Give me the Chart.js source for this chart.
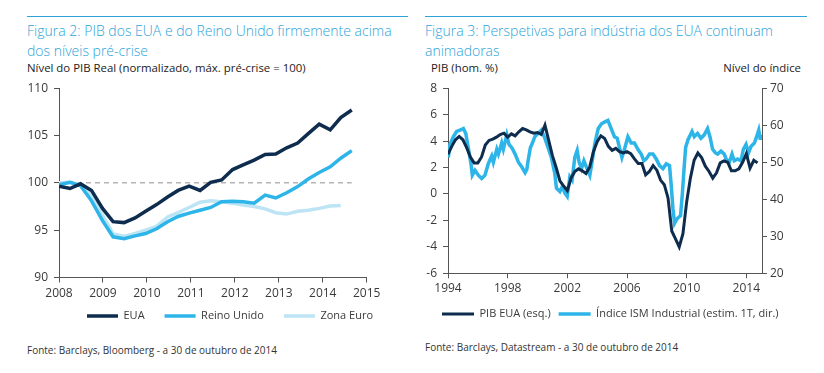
<!DOCTYPE html>
<html><head><meta charset="utf-8">
<script src="https://cdn.jsdelivr.net/npm/chart.js@4.4.1/dist/chart.umd.min.js"></script>
<style>
html,body{margin:0;padding:0;background:#fff;}
body{width:824px;height:373px;position:relative;overflow:hidden;font-family:'Open Sans',sans-serif;}
.rule{position:absolute;top:16px;height:1px;background:#2ea3d8;}
.title{position:absolute;top:21px;font-size:14px;line-height:20px;color:#2ea3d8;font-weight:300;white-space:nowrap;}
.sub{position:absolute;top:61px;font-size:11.4px;color:#222;white-space:nowrap;line-height:14px;}
.src{position:absolute;font-size:10px;color:#333;white-space:nowrap;line-height:12px;}
canvas{position:absolute;}
</style></head><body>
<div class="rule" style="left:27px;width:381px"></div>
<div class="rule" style="left:425px;width:382px"></div>
<div class="title" style="left:27px">Figura 2: PIB dos EUA e do Reino Unido firmemente acima<br>dos níveis pré-crise</div>
<div class="title" style="left:425px">Figura 3: Perspetivas para indústria dos EUA continuam<br>animadoras</div>
<div class="sub" style="left:27px">Nível do PIB Real (normalizado, máx. pré-crise = 100)</div>
<div class="sub" style="left:431px">PIB (hom. %)</div>
<div class="sub" style="right:23px">Nível do índice</div>
<div class="src" style="left:27px;top:344px">Fonte: Barclays, Bloomberg - a 30 de outubro de 2014</div>
<div class="src" style="left:425px;top:341px">Fonte: Barclays, Datastream - a 30 de outubro de 2014</div>
<canvas id="c1" width="412" height="280" style="left:0;top:75px;width:412px;height:280px"></canvas>
<canvas id="c2" width="412" height="262" style="left:412px;top:75px;width:412px;height:262px"></canvas>
<script>
// ---------- Figura 2 data ----------
const leftDates = [2008.00,2008.25,2008.49,2008.74,2008.99,2009.23,2009.48,2009.73,2009.97,2010.22,2010.47,2010.71,2010.96,2011.21,2011.45,2011.70,2011.95,2012.19,2012.44,2012.69,2012.93,2013.18,2013.43,2013.67,2013.92,2014.17,2014.41,2014.66];
const euaValues = [99.65,99.4,99.9,99.2,97.3,95.9,95.8,96.3,97.0,97.7,98.5,99.2,99.65,99.2,100.05,100.3,101.4,101.9,102.4,103.0,103.05,103.7,104.2,105.2,106.2,105.6,106.9,107.7];
const reinoUnidoValues = [99.8,100.05,99.7,98.1,96.0,94.3,94.1,94.4,94.65,95.15,95.9,96.45,96.8,97.1,97.4,98.0,98.05,98.0,97.85,98.7,98.4,98.95,99.6,100.4,101.1,101.7,102.6,103.4];
const zonaEuroValues = [100.0,100.05,99.8,98.6,96.6,94.6,94.35,94.65,95.0,95.4,96.4,96.85,97.4,97.95,98.1,98.0,97.85,97.65,97.5,97.25,96.85,96.7,97.0,97.1,97.3,97.55,97.6,null];
const leftSeriesNames = ['EUA','Reino Unido','Zona Euro'];
const preCrisisDates = [2008.0, 2014.66];
const preCrisisLevel = [100, 100];
const leftXTicks = [2008,2009,2010,2011,2012,2013,2014,2015];
const leftYTicks = [90,95,100,105,110];

// ---------- Figura 3 data ----------
const gdpDates = [1994.00,1994.25,1994.50,1994.75,1995.00,1995.25,1995.50,1995.75,1996.00,1996.25,1996.50,1996.75,1997.00,1997.25,1997.50,1997.75,1998.00,1998.25,1998.50,1998.75,1999.00,1999.25,1999.50,1999.75,2000.00,2000.25,2000.50,2000.75,2001.00,2001.25,2001.50,2001.75,2002.00,2002.25,2002.50,2002.75,2003.00,2003.25,2003.50,2003.75,2004.00,2004.25,2004.50,2004.75,2005.00,2005.25,2005.50,2005.75,2006.00,2006.25,2006.50,2006.75,2007.00,2007.25,2007.50,2007.75,2008.00,2008.25,2008.50,2008.75,2009.00,2009.25,2009.50,2009.75,2010.00,2010.25,2010.50,2010.75,2011.00,2011.25,2011.50,2011.75,2012.00,2012.25,2012.50,2012.75,2013.00,2013.25,2013.50,2013.75,2014.00,2014.25,2014.50,2014.75];
const gdpValues = [3.0,3.6,4.1,4.35,4.1,3.5,2.8,2.35,2.35,2.8,3.7,4.05,4.15,4.3,4.5,4.6,4.3,4.55,4.4,4.7,4.95,4.85,4.7,4.6,4.65,4.5,5.2,4.05,2.9,2.0,1.0,0.6,0.25,1.2,1.7,1.9,1.75,1.55,2.05,3.2,3.95,4.4,4.2,3.6,3.3,3.45,3.2,3.1,3.2,3.05,2.65,2.3,2.3,1.45,1.7,2.15,1.8,1.05,0.7,-0.3,-2.8,-3.4,-4.0,-3.0,-0.6,1.2,2.55,3.1,2.75,2.1,1.7,1.2,1.6,2.35,2.5,2.4,1.75,1.75,1.9,2.4,3.05,1.95,2.55,2.35];
const ismDates = [1994.02,1994.13,1994.36,1994.58,1994.81,1995.03,1995.19,1995.36,1995.54,1995.63,1995.81,1996.03,1996.26,1996.48,1996.70,1996.93,1997.04,1997.27,1997.38,1997.60,1997.71,1997.94,1998.09,1998.28,1998.50,1998.72,1998.95,1999.17,1999.28,1999.37,1999.52,1999.70,1999.82,2000.04,2000.26,2000.49,2000.71,2000.93,2001.16,2001.27,2001.50,2001.67,2001.83,2001.99,2002.17,2002.32,2002.50,2002.66,2002.79,2002.95,2003.11,2003.28,2003.51,2003.62,2003.85,2004.07,2004.29,2004.52,2004.72,2004.94,2005.16,2005.34,2005.50,2005.66,2005.83,2006.06,2006.28,2006.50,2006.73,2006.95,2007.13,2007.29,2007.51,2007.74,2007.96,2008.18,2008.41,2008.63,2008.85,2008.97,2009.08,2009.19,2009.37,2009.59,2009.72,2009.82,2009.93,2010.09,2010.36,2010.51,2010.73,2010.96,2011.18,2011.40,2011.56,2011.74,2011.92,2012.07,2012.30,2012.52,2012.64,2012.86,2013.04,2013.19,2013.42,2013.64,2013.80,2013.98,2014.15,2014.32,2014.54,2014.69,2014.83,2014.92,2014.98];
const ismValues = [51.3,54.8,56.9,58.3,58.7,59.1,57.8,53.9,49.6,46.5,47.8,46.5,45.6,46.5,49.6,51.7,50.0,53.5,52.2,55.2,53.5,57.4,54.8,53.9,52.2,50.0,48.7,47.2,48.0,50.4,53.9,55.6,56.9,57.8,58.7,56.5,53.9,51.3,46.9,43.0,42.1,43.5,41.7,40.8,46.1,45.2,51.3,53.2,50.0,48.3,50.4,48.7,46.5,49.1,55.2,59.1,60.4,60.9,61.3,59.1,56.9,56.5,53.9,51.3,53.5,56.9,55.2,55.2,53.5,52.2,50.4,50.9,52.2,52.2,50.9,49.1,48.3,49.6,49.1,43.5,37.4,33.5,34.8,35.6,42.0,48.0,54.0,56.1,58.3,56.9,57.8,56.5,57.4,59.1,56.9,53.5,52.6,52.2,53.0,52.2,50.9,50.0,52.2,50.4,50.9,50.4,53.5,54.8,52.6,54.3,55.2,56.9,58.7,56.5,57.4];
const rightSeriesNames = ['PIB EUA (esq.)','Índice ISM Industrial (estim. 1T, dir.)'];
const rightXTicks = [1994,1998,2002,2006,2010,2014];
const gdpTicks = [-6,-4,-2,0,2,4,6,8];
const ismTicks = [20,30,40,50,60,70];

// ---------- helpers ----------
const NAVY = '#0e2d4e', SKY = '#2db4e8', PALE = '#bde4f4', AXIS = '#555555', TXT = '#3a3a3a';
const FONT = "'Open Sans', sans-serif";
Chart.defaults.font.family = FONT;
Chart.defaults.font.size = 12;
Chart.defaults.color = TXT;
const pts = (d, v) => d.map((x, i) => ({x: x, y: v[i]}));
const setTicks = arr => (s => { s.ticks = arr.map(v => ({value: v})); });

// place the legend row at a given start x / label centre y (canvas px)
const legendShift = {
  id: 'legendShift',
  afterLayout(chart, args, opts) {
    const lg = chart.legend;
    if (!lg) return;
    const lab = lg.options.labels;
    const fs = lab.font.size;
    if (opts.start != null) {
      const w = lg.right - lg.left;
      lg.left = opts.start - lab.padding;
      lg.right = lg.left + w;
    }
    if (opts.centerY != null) {
      const h = lg.bottom - lg.top;
      lg.top = opts.centerY - lab.padding - fs / 2;
      lg.bottom = lg.top + h;
    }
  }
};

function axisStyle(extra) {
  return Object.assign({
    border: {display: true, color: AXIS, width: 1},
    grid: {display: true, drawOnChartArea: false, drawTicks: true, tickLength: 5, color: AXIS}
  }, extra);
}

// ---------- Figura 2 chart ----------
new Chart(document.getElementById('c1'), {
  type: 'line',
  data: {
    datasets: [
      {label: leftSeriesNames[0], data: pts(leftDates, euaValues), borderColor: NAVY, backgroundColor: NAVY, borderWidth: 3.5},
      {label: leftSeriesNames[1], data: pts(leftDates, reinoUnidoValues), borderColor: SKY, backgroundColor: SKY, borderWidth: 3.5},
      {label: leftSeriesNames[2], data: pts(leftDates, zonaEuroValues), borderColor: PALE, backgroundColor: PALE, borderWidth: 3.5},
      {label: '', data: pts(preCrisisDates, preCrisisLevel), borderColor: '#b5b5b5', borderWidth: 1.5, borderDash: [5, 4]}
    ]
  },
  plugins: [legendShift],
  options: {
    responsive: false, animation: false,
    elements: {point: {radius: 0}, line: {tension: 0}},
    layout: {padding: {top: 12.3, left: 0, right: 45.3, bottom: 8.5}},
    scales: {
      x: axisStyle({type: 'linear', min: 2008, max: 2015,
        afterBuildTicks: setTicks(leftXTicks),
        afterFit: s => { s.height = 28; },
        ticks: {padding: 4, color: TXT, font: {size: 12}, callback: v => String(v)}}),
      y: axisStyle({type: 'linear', min: 90, max: 110,
        afterBuildTicks: setTicks(leftYTicks),
        afterFit: s => { s.width = 59; },
        ticks: {padding: 6, color: TXT, font: {size: 12}}})
    },
    plugins: {
      tooltip: {enabled: false},
      legendShift: {start: 87, centerY: 241},
      legend: {position: 'bottom', align: 'start',
        labels: {usePointStyle: true, pointStyle: 'line', pointStyleWidth: 31, padding: 20,
          color: TXT, font: {size: 11},
          filter: item => item.text !== ''}}
    }
  }
});

// ---------- Figura 3 chart ----------
new Chart(document.getElementById('c2'), {
  type: 'line',
  data: {
    datasets: [
      {label: rightSeriesNames[0], data: pts(gdpDates, gdpValues), yAxisID: 'y', borderColor: NAVY, backgroundColor: NAVY, borderWidth: 3},
      {label: rightSeriesNames[1], data: pts(ismDates, ismValues), yAxisID: 'y1', borderColor: SKY, backgroundColor: SKY, borderWidth: 3.5}
    ]
  },
  plugins: [legendShift],
  options: {
    responsive: false, animation: false,
    elements: {point: {radius: 0}, line: {tension: 0}},
    layout: {padding: {top: 10, left: 0, right: 0, bottom: 7}},
    scales: {
      x: axisStyle({type: 'linear', min: 1994, max: 2015.05,
        afterBuildTicks: setTicks(rightXTicks),
        afterFit: s => { s.height = 27.7; },
        ticks: {padding: 3, color: TXT, font: {size: 12}, callback: v => String(v)}}),
      y: axisStyle({type: 'linear', position: 'left', min: -6, max: 8,
        afterBuildTicks: setTicks(gdpTicks),
        afterFit: s => { s.width = 36; },
        ticks: {padding: 6, color: TXT, font: {size: 12}}}),
      y1: axisStyle({type: 'linear', position: 'right', min: 20, max: 70,
        afterBuildTicks: setTicks(ismTicks),
        afterFit: s => { s.width = 62; },
        ticks: {padding: 3, color: TXT, font: {size: 12}}})
    },
    plugins: {
      tooltip: {enabled: false},
      legendShift: {start: 30, centerY: 239},
      legend: {position: 'bottom', align: 'start',
        labels: {usePointStyle: true, pointStyle: 'line', pointStyleWidth: 32, padding: 8,
          color: TXT, font: {size: 11}}}
    }
  }
});
</script>
</body></html>
